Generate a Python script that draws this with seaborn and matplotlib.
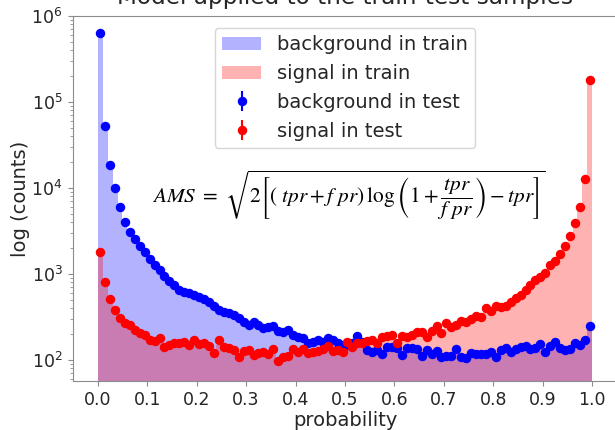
import numpy as np
import pandas as pd
import matplotlib
matplotlib.use("Agg")
import matplotlib.pyplot as plt
import seaborn as sns

# 100 equal-width bins of the classifier output probability
n_bins = 100
edges = np.linspace(0.0, 1.0, n_bins + 1)
centers = 0.5 * (edges[:-1] + edges[1:])

background_train = [
    630000, 52000, 18500, 10000, 6000, 4000, 3100, 2500, 2100, 1800,
    1500, 1270, 1100, 950, 830, 740, 660, 610, 580, 550,
    520, 495, 465, 425, 390, 365, 350, 330, 310, 290,
    270, 265, 255, 240, 235, 230, 215, 210, 205, 195,
    185, 178, 165, 162, 162, 158, 160, 158, 152, 148,
    145, 145, 150, 145, 132, 128, 128, 122, 125, 128,
    126, 118, 122, 124, 122, 114, 118, 116, 118, 110,
    110, 110, 118, 108, 106, 114, 114, 114, 114, 116,
    108, 120, 125, 118, 124, 128, 130, 124, 126, 135,
    118, 130, 140, 126, 122, 124, 140, 138, 150, 225,
]

signal_train = [
    1700, 780, 500, 375, 305, 265, 250, 222, 205, 193,
    172, 165, 172, 148, 150, 154, 154, 155, 150, 158,
    150, 152, 142, 128, 150, 138, 135, 128, 115, 124,
    126, 116, 120, 120, 117, 126, 105, 110, 112, 126,
    122, 128, 122, 124, 126, 130, 138, 128, 130, 126,
    150, 140, 150, 152, 158, 162, 155, 175, 180, 185,
    162, 180, 180, 188, 200, 202, 185, 208, 232, 205,
    250, 235, 248, 270, 270, 290, 312, 310, 380, 360,
    410, 405, 415, 455, 505, 550, 630, 720, 820, 890,
    1000, 1220, 1380, 1650, 2050, 2650, 3750, 5800, 12300, 175000,
]

background_test = [
    634000, 52600, 18500, 10000, 6010, 4030, 3080, 2550, 2120, 1800,
    1490, 1270, 1110, 948, 829, 745, 652, 618, 601, 570,
    540, 512, 472, 425, 382, 361, 352, 334, 308, 277,
    255, 277, 255, 236, 242, 249, 217, 212, 223, 195,
    185, 180, 158, 162, 171, 162, 180, 171, 158, 149,
    149, 158, 190, 162, 131, 124, 131, 117, 142, 142,
    138, 114, 138, 138, 134, 111, 131, 117, 127, 108,
    111, 111, 134, 108, 105, 121, 117, 117, 117, 124,
    108, 131, 138, 124, 134, 142, 145, 134, 138, 153,
    124, 145, 162, 138, 131, 134, 158, 150, 171, 250,
]

signal_test = [
    1800, 807, 512, 382, 308, 269, 255, 223, 206, 195,
    171, 166, 180, 142, 149, 158, 158, 162, 149, 171,
    153, 158, 145, 121, 171, 142, 138, 131, 108, 127,
    131, 114, 121, 124, 117, 134, 97, 108, 111, 134,
    124, 134, 121, 124, 127, 134, 145, 127, 131, 124,
    162, 142, 158, 158, 166, 171, 158, 185, 190, 195,
    158, 190, 185, 195, 212, 212, 185, 217, 249, 206,
    269, 242, 255, 284, 277, 300, 325, 316, 402, 371,
    425, 413, 425, 472, 526, 570, 652, 745, 852, 922,
    1030, 1270, 1420, 1710, 2120, 2770, 3920, 6010, 12700, 180000,
]

tick_values = [round(0.1 * k, 1) for k in range(11)]
tick_labels = [f"{v:.1f}" for v in tick_values]

train = pd.DataFrame({"prob": centers,
                      "background": background_train,
                      "signal": signal_train})

sns.set_style("ticks", {"axes.edgecolor": "0.55", "xtick.color": "0.55",
                        "ytick.color": "0.55", "text.color": "0.15",
                        "axes.labelcolor": "0.15"})
plt.rcParams["font.family"] = ["DejaVu Sans"]
plt.rcParams["mathtext.fontset"] = "stix"

fig = plt.figure(figsize=(6.15, 4.30), dpi=100)
ax = fig.add_axes([0.1187, 0.114, 0.8846, 0.8488])
ax.set_yscale("log")

sns.histplot(data=train, x="prob", weights="background", bins=list(edges),
             element="step", fill=True, color="blue", alpha=0.3, linewidth=0,
             label="background in train", ax=ax)
sns.histplot(data=train, x="prob", weights="signal", bins=list(edges),
             element="step", fill=True, color="red", alpha=0.3, linewidth=0,
             label="signal in train", ax=ax)

bg = np.array(background_test, dtype=float)
sg = np.array(signal_test, dtype=float)
ax.errorbar(centers, bg, yerr=np.sqrt(bg), fmt="o", color="blue",
            markersize=5.8, label="background in test")
ax.errorbar(centers, sg, yerr=np.sqrt(sg), fmt="o", color="red",
            markersize=5.8, label="signal in test")

ax.set_xlim(-0.05, 1.05)
ax.set_ylim(57, 1e6)
ax.set_xticks(tick_values)
ax.set_xticklabels(tick_labels)
ax.tick_params(axis="both", which="major", labelsize=12.5, labelcolor="0.15",
               length=3.5, width=0.8, pad=4)
ax.tick_params(axis="y", which="minor", length=2.2, width=0.6)
ax.set_xlabel("probability", fontsize=14, labelpad=1)
ax.set_ylabel("log (counts)", fontsize=14, labelpad=1)
ax.set_title("Model applied to the train-test samples", fontsize=16.7, pad=8.6)

ax.text(0.507, 8300,
        r"$AMS\ =\ \sqrt{2\left[\left(\ tpr + f\ pr\right)\,\log\left(1 + \dfrac{tpr}{f\ pr}\right) - tpr\right]}$",
        fontsize=15.3, ha="center", va="center", color="black")

ax.legend(loc="upper center", fontsize=14, frameon=True, borderaxespad=0.6)

fig.savefig("out.png", dpi=100)
